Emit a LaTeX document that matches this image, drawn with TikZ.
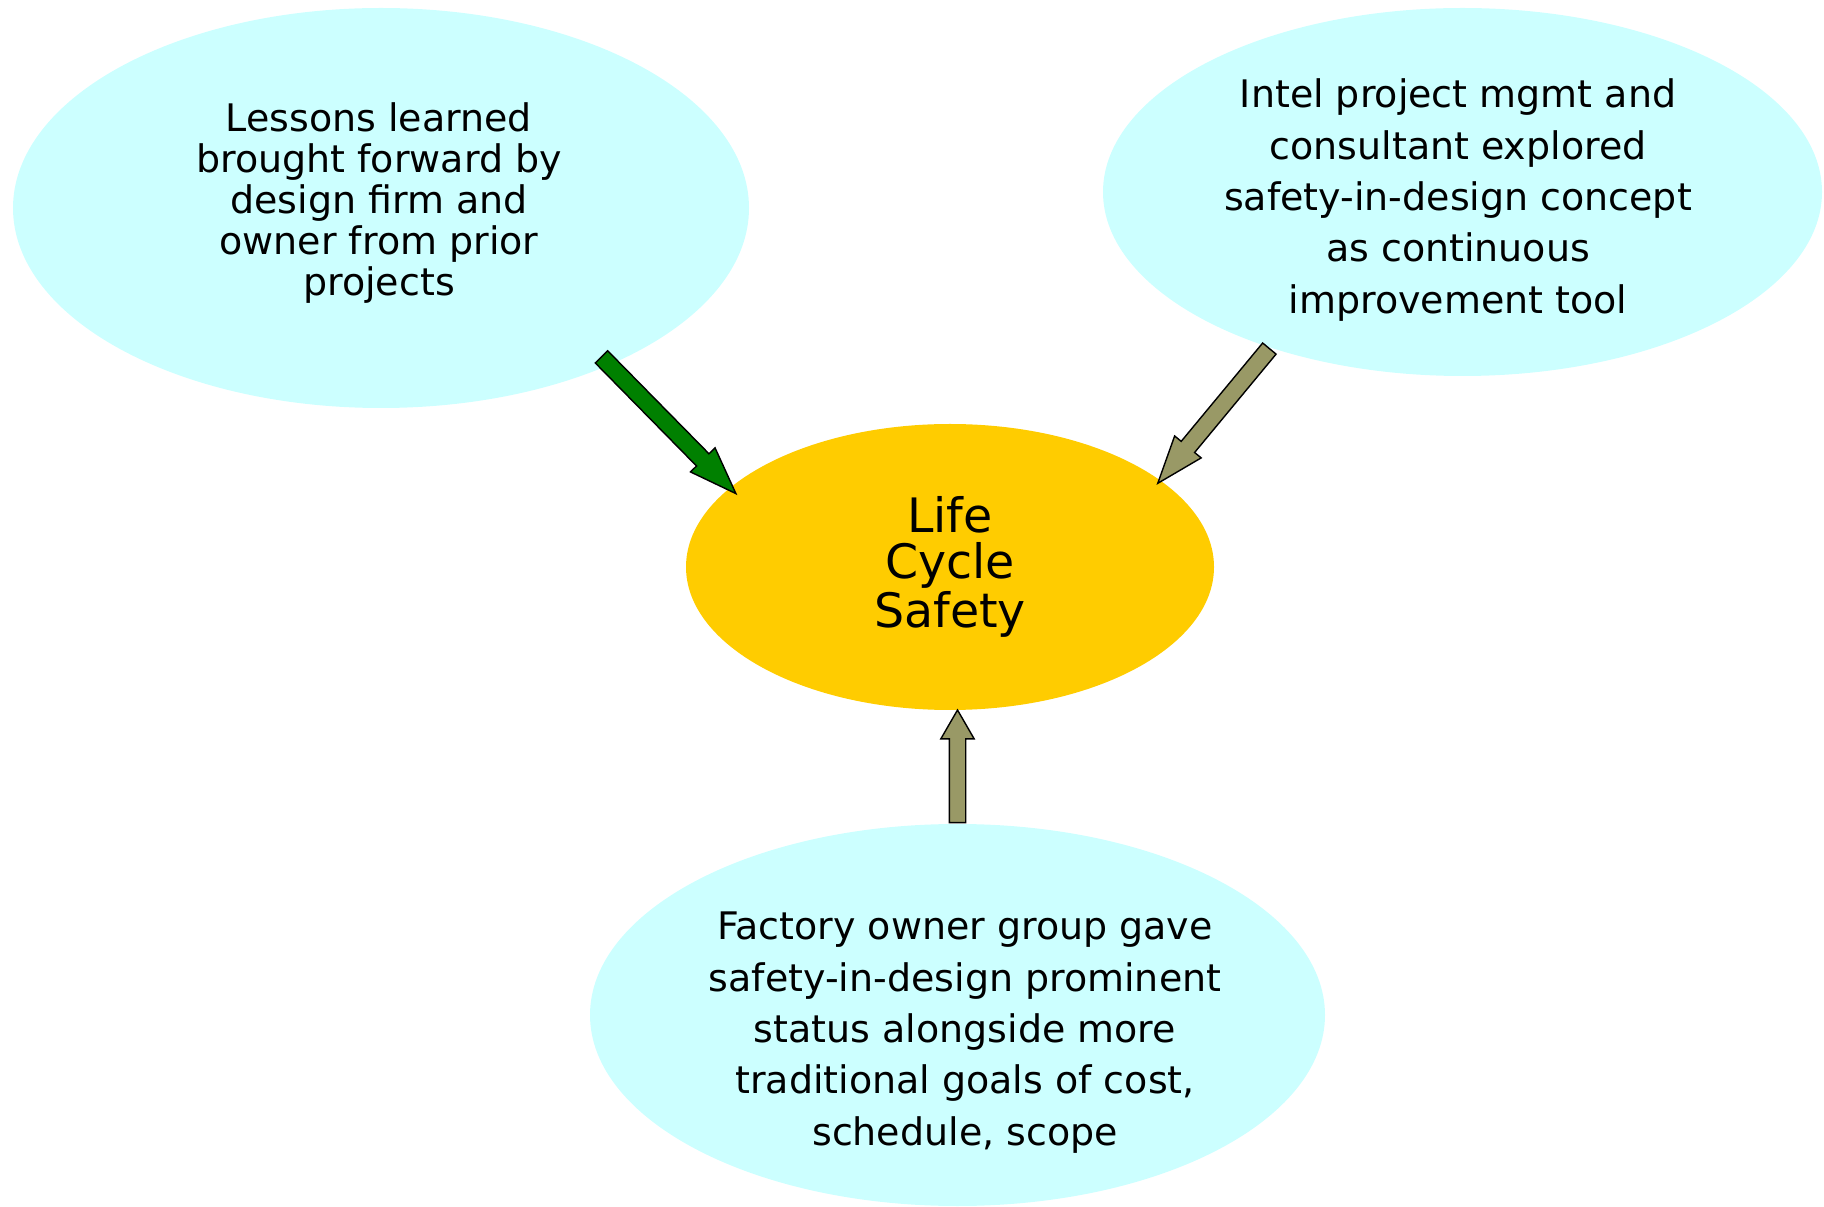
\documentclass[tikz,border=0pt]{standalone}
\usepackage{fontspec}
\setmainfont{DejaVu Sans}
\usetikzlibrary{shapes.geometric,shapes.arrows,calc}

\definecolor{bubblecyan}{HTML}{CCFFFF}
\definecolor{lifeyellow}{HTML}{FFCC00}
\definecolor{arrowgreen}{HTML}{008000}
\definecolor{arrowkhaki}{HTML}{999966}

% block arrow: style, tail, tip, name
\newcommand{\fatarrow}[4]{%
  \path let \p1=(#2), \p2=(#3), \n1={atan2(\y2-\y1,\x2-\x1)}, \n2={veclen(\x2-\x1,\y2-\y1)} in
    node[#1, rotate=\n1, minimum height=\n2, anchor=tail] (#4) at (\p1) {};}

\begin{document}
\begin{tikzpicture}[
    bubble/.style={ellipse, fill=bubblecyan, inner sep=0pt},
    words/.style={align=center, inner sep=0pt, font=\fontsize{10.8}{14.6}\selectfont},
    fat/.style={single arrow, draw=black, line width=0.4pt, inner xsep=0pt, inner ysep=0.08cm,
                single arrow head extend=0.085cm, single arrow tip angle=40}]
			\useasboundingbox (0,0) rectangle (18.24,12.06);

			\node[bubble, minimum width=7.36cm, minimum height=4cm] (lessons) at (3.81,9.98){};
			\node[bubble, minimum width=7.19cm, minimum height=3.68cm] (intel) at (14.625,10.14){};
			\node[bubble, minimum width=7.35cm, minimum height=3.82cm] (factory) at (9.575,1.91){};
			\node[ellipse, fill=lifeyellow, minimum width=5.28cm, minimum height=2.86cm, align=center,
			      font=\fontsize{13.5}{12.95}\selectfont] (life) at (9.50,6.39){Life\\Cycle\\Safety};

			\node[words, font=\fontsize{10.8}{11.6}\selectfont] (lessonstext) at (3.79,10.03){Lessons learned\\brought forward by\\design firm and\\owner from prior\\projects};
			\node[words] (inteltext) at (14.58,10.06){Intel project mgmt and\\consultant explored\\safety-in-design concept\\as continuous\\improvement tool};
			\node[words] (factorytext) at (9.65,1.735){Factory owner group gave\\safety-in-design prominent\\status alongside more\\traditional goals of cost,\\schedule, scope};

			\fatarrow{fat, fill=arrowgreen}{$(lessons)!.95!(lessons.-34)$}{$(life)!.96!(life.161)$}{lessonsarrow}
			\fatarrow{fat, fill=arrowkhaki}{intel.219}{$(life)!.98!(life.22)$}{intelarrow}
			\fatarrow{fat, fill=arrowkhaki, inner ysep=0.075cm, single arrow tip angle=60}{factory.north}{factory.north |- life.south}{factoryarrow}
\end{tikzpicture}
\end{document}
